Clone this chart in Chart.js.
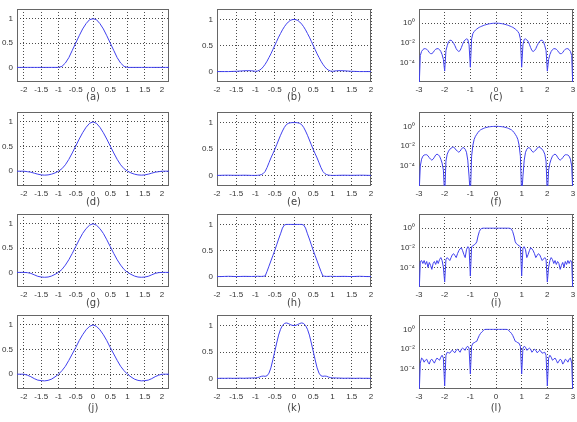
<!DOCTYPE html>
<html>
<head>
<meta charset="utf-8">
<script src="https://cdn.jsdelivr.net/npm/chart.js@4.4.0/dist/chart.umd.min.js"></script>
<style>
  html, body { margin: 0; padding: 0; background: #fff; }
  body { width: 577px; height: 422px; position: relative; overflow: hidden; }
  canvas { position: absolute; }
</style>
</head>
<body>
<script>
// sample positions per column
const xCol1 = [-2.2,-2.1,-2,-1.9,-1.8,-1.7,-1.6,-1.5,-1.4,-1.3,-1.2,-1.1,-1,-0.9,-0.8,-0.7,-0.6,-0.5,-0.4,-0.3,-0.2,-0.1,0,
  0.1,0.2,0.3,0.4,0.5,0.6,0.7,0.8,0.9,1,1.1,1.2,1.3,1.4,1.5,1.6,1.7,1.8,1.9,2,2.1,2.2];
const xCol2 = [-2,-1.9,-1.8,-1.7,-1.6,-1.5,-1.4,-1.3,-1.2,-1.1,-1,-0.95,-0.9,-0.85,-0.8,-0.75,-0.7,-0.65,-0.6,-0.55,-0.5,
  -0.45,-0.4,-0.35,-0.3,-0.25,-0.2,-0.15,-0.1,-0.05,0,0.05,0.1,0.15,0.2,0.25,0.3,0.35,0.4,0.45,0.5,0.55,0.6,0.65,0.7,
  0.75,0.8,0.85,0.9,0.95,1,1.1,1.2,1.3,1.4,1.5,1.6,1.7,1.8,1.9,2];
const xCol3 = [-3,-2.95,-2.9,-2.85,-2.8,-2.75,-2.7,-2.65,-2.6,-2.55,-2.5,-2.45,-2.4,-2.35,-2.3,-2.25,-2.2,-2.15,-2.1,-2.05,
  -2,-1.95,-1.9,-1.85,-1.8,-1.75,-1.7,-1.65,-1.6,-1.55,-1.5,-1.45,-1.4,-1.35,-1.3,-1.25,-1.2,-1.15,-1.1,-1.05,
  -1,-0.95,-0.9,-0.85,-0.8,-0.75,-0.7,-0.65,-0.6,-0.55,-0.5,-0.45,-0.4,-0.35,-0.3,-0.25,-0.2,-0.15,-0.1,-0.05,0,
  0.05,0.1,0.15,0.2,0.25,0.3,0.35,0.4,0.45,0.5,0.55,0.6,0.65,0.7,0.75,0.8,0.85,0.9,0.95,1,
  1.05,1.1,1.15,1.2,1.25,1.3,1.35,1.4,1.45,1.5,1.55,1.6,1.65,1.7,1.75,1.8,1.85,1.9,1.95,2,
  2.05,2.1,2.15,2.2,2.25,2.3,2.35,2.4,2.45,2.5,2.55,2.6,2.65,2.7,2.75,2.8,2.85,2.9,2.95,3];

// column 1 (linear)
const yA = [0,0,0,0,0,0,0,0,0,0,0,0,0,0.02,0.09,0.2,0.35,0.5,0.65,0.79,0.9,0.98,1,
  0.98,0.9,0.79,0.65,0.5,0.35,0.2,0.09,0.02,0,0,0,0,0,0,0,0,0,0,0,0,0];
const yD = [0,0,0,-0.01,-0.02,-0.04,-0.06,-0.075,-0.08,-0.075,-0.06,-0.035,0,0.05,0.13,0.24,0.37,0.51,0.65,0.78,0.89,0.97,1,
  0.97,0.89,0.78,0.65,0.51,0.37,0.24,0.13,0.05,0,-0.035,-0.06,-0.075,-0.08,-0.075,-0.06,-0.04,-0.02,-0.01,0,0,0];
const yG = [0,0,0,-0.005,-0.02,-0.05,-0.08,-0.095,-0.1,-0.095,-0.075,-0.04,0,0.06,0.15,0.26,0.39,0.53,0.67,0.8,0.9,0.97,1,
  0.97,0.9,0.8,0.67,0.53,0.39,0.26,0.15,0.06,0,-0.04,-0.075,-0.095,-0.1,-0.095,-0.08,-0.05,-0.02,-0.005,0,0,0];
const yJ = [0,0,0,-0.02,-0.05,-0.09,-0.12,-0.13,-0.135,-0.125,-0.1,-0.055,0,0.07,0.16,0.28,0.41,0.54,0.68,0.8,0.9,0.97,1,
  0.97,0.9,0.8,0.68,0.54,0.41,0.28,0.16,0.07,0,-0.055,-0.1,-0.125,-0.135,-0.13,-0.12,-0.09,-0.05,-0.02,0,0,0];

// column 2 (linear)
const yB = [0,0,0,0,0.003,0.005,0.01,0.015,0.018,0.015,0.005,
  0.01,0.025,0.05,0.09,0.14,0.2,0.27,0.34,0.42,0.5,0.58,0.66,0.73,0.8,0.86,0.91,0.95,0.98,0.995,1,
  0.995,0.98,0.95,0.91,0.86,0.8,0.73,0.66,0.58,0.5,0.42,0.34,0.27,0.2,0.14,0.09,0.05,0.025,0.01,
  0.005,0.015,0.018,0.015,0.01,0.005,0.003,0,0,0,0];
const yE = [0,0.002,0.004,0.004,0.003,0.002,0.003,0.004,0.003,0.001,0,
  0.002,0.006,0.015,0.035,0.075,0.15,0.24,0.33,0.41,0.49,0.58,0.67,0.76,0.84,0.91,0.96,0.985,0.995,1,1,
  1,0.995,0.985,0.96,0.91,0.84,0.76,0.67,0.58,0.49,0.41,0.33,0.24,0.15,0.075,0.035,0.015,0.006,0.002,
  0,0.001,0.003,0.004,0.003,0.002,0.003,0.004,0.004,0.002,0];
const yH = [0,0,0.003,0.005,0.003,0,0.002,0.004,0.003,0.002,0.004,
  0.005,0.004,0.003,0.006,0.01,0.1,0.2,0.3,0.4,0.5,0.61,0.72,0.82,0.93,0.99,1,1,1,1,1,
  1,1,1,1,0.99,0.93,0.82,0.72,0.61,0.5,0.4,0.3,0.2,0.1,0.01,0.006,0.003,0.004,0.005,
  0.004,0.002,0.003,0.004,0.002,0,0.003,0.005,0.003,0,0];
const yK = [0,0.003,0.002,0.004,0.002,0.003,0.005,0.003,0.006,0.008,0.01,
  0.015,0.025,0.04,0.045,0.04,0.05,0.1,0.2,0.35,0.51,0.67,0.82,0.93,1.0,1.04,1.05,1.04,1.02,1.005,1,
  1.005,1.02,1.04,1.05,1.04,1.0,0.93,0.82,0.67,0.51,0.35,0.2,0.1,0.05,0.04,0.045,0.04,0.025,0.015,
  0.01,0.008,0.006,0.003,0.005,0.003,0.002,0.004,0.002,0.003,0];

// column 3 (log magnitude)
const yC = [1e-7,5e-4,1.3e-3,2e-3,2.5e-3,2.5e-3,2.2e-3,1.6e-3,1e-3,7.9e-4,7.9e-4,1e-3,1.6e-3,2.2e-3,2.5e-3,2.5e-3,2e-3,1.3e-3,6.3e-4,2e-4,
  1.3e-5,1.6e-3,5e-3,1.3e-2,1.8e-2,1.8e-2,1.4e-2,8.9e-3,5e-3,2.5e-3,1.6e-3,1.3e-3,1.6e-3,3.2e-3,7.1e-3,1.4e-2,2e-2,2.5e-2,2.2e-2,6.3e-3,
  3.2e-5,2.5e-2,8.9e-2,0.14,0.2,0.25,0.32,0.38,0.44,0.5,0.56,0.63,0.69,0.76,0.81,0.87,0.91,0.95,0.98,1,
  1,
  1,0.98,0.95,0.91,0.87,0.81,0.76,0.69,0.63,0.56,0.5,0.44,0.38,0.32,0.25,0.2,0.14,8.9e-2,2.5e-2,3.2e-5,
  6.3e-3,2.2e-2,2.5e-2,2e-2,1.4e-2,7.1e-3,3.2e-3,1.6e-3,1.3e-3,1.6e-3,2.5e-3,5e-3,8.9e-3,1.4e-2,1.8e-2,1.8e-2,1.3e-2,5e-3,1.6e-3,1.3e-5,
  2e-4,6.3e-4,1.3e-3,2e-3,2.5e-3,2.5e-3,2.2e-3,1.6e-3,1e-3,7.9e-4,7.9e-4,1e-3,1.6e-3,2.2e-3,2.5e-3,2.5e-3,2e-3,1.3e-3,5e-4,1e-7];
const yF = [1e-7,1e-4,5e-4,1e-3,1.3e-3,1.4e-3,1.4e-3,1.1e-3,7.1e-4,5e-4,4e-4,5e-4,7.9e-4,1.3e-3,1.6e-3,1.4e-3,1e-3,5e-4,2e-4,4e-5,
  1e-7,3.2e-4,1.6e-3,3.2e-3,5e-3,6.3e-3,7.9e-3,7.9e-3,6.3e-3,4e-3,3.2e-3,2.5e-3,3.2e-3,5e-3,7.1e-3,7.1e-3,5e-3,2.5e-3,4e-4,1e-5,
  1e-7,1e-3,1.3e-2,5e-2,0.1,0.16,0.25,0.35,0.45,0.52,0.6,0.68,0.75,0.81,0.87,0.91,0.95,0.97,0.99,1,
  1,
  1,0.99,0.97,0.95,0.91,0.87,0.81,0.75,0.68,0.6,0.52,0.45,0.35,0.25,0.16,0.1,5e-2,1.3e-2,1e-3,1e-7,
  1e-5,4e-4,2.5e-3,5e-3,7.1e-3,7.1e-3,5e-3,3.2e-3,2.5e-3,3.2e-3,4e-3,6.3e-3,7.9e-3,7.9e-3,6.3e-3,5e-3,3.2e-3,1.6e-3,3.2e-4,1e-7,
  4e-5,2e-4,5e-4,1e-3,1.4e-3,1.6e-3,1.3e-3,7.9e-4,5e-4,4e-4,5e-4,7.1e-4,1.1e-3,1.4e-3,1.4e-3,1.3e-3,1e-3,5e-4,1e-4,1e-7];
const yI = [1e-7,4e-4,5e-4,2.5e-4,5e-4,2e-4,4e-4,1e-4,3.2e-4,1.6e-4,6.3e-5,2.5e-4,4e-4,2e-4,5e-4,2.5e-4,6.3e-4,1e-3,5e-4,1e-4,
  3.2e-6,6.3e-4,1e-3,7.1e-4,5e-4,1e-3,2e-3,2.5e-3,1.6e-3,1e-3,2.5e-3,5e-3,7.9e-3,1e-2,5e-3,2e-3,1e-3,6.3e-3,1.3e-2,1e-2,
  1.3e-5,1.3e-2,1.6e-2,2e-2,2.5e-2,4e-2,0.16,0.45,0.8,0.95,1,1,1,1,1,1,1,1,1,1,
  1,
  1,1,1,1,1,1,1,1,1,1,0.95,0.8,0.45,0.16,4e-2,2.5e-2,2e-2,1.6e-2,1.3e-2,1.3e-5,
  1e-2,1.3e-2,6.3e-3,1e-3,2e-3,5e-3,1e-2,7.9e-3,5e-3,2.5e-3,1e-3,1.6e-3,2.5e-3,2e-3,1e-3,5e-4,7.1e-4,1e-3,6.3e-4,3.2e-6,
  1e-4,5e-4,1e-3,6.3e-4,2.5e-4,5e-4,2e-4,4e-4,2.5e-4,6.3e-5,1.6e-4,3.2e-4,1e-4,4e-4,2e-4,5e-4,2.5e-4,5e-4,4e-4,1e-7];
const yL = [1e-7,4e-4,1.3e-3,1e-3,5e-4,7.9e-4,1e-3,5e-4,3.2e-4,7.9e-4,1e-3,6.3e-4,4e-4,7.9e-4,1.3e-3,1e-3,7.9e-4,1.6e-3,2.5e-3,1.3e-3,
  2e-6,2.5e-3,5e-3,4.5e-3,4e-3,6.3e-3,7.9e-3,5.6e-3,4.5e-3,7.9e-3,1e-2,7.1e-3,5e-3,1e-2,1.3e-2,1e-2,7.9e-3,1.6e-2,2e-2,1.3e-2,
  3.2e-5,2e-2,4e-2,4.5e-2,5.6e-2,6.3e-2,0.13,0.25,0.4,0.56,0.75,0.95,1,1,1,1,1,1,1,1,
  1,
  1,1,1,1,1,1,1,1,0.95,0.75,0.56,0.4,0.25,0.13,6.3e-2,5.6e-2,4.5e-2,4e-2,2e-2,3.2e-5,
  1.3e-2,2e-2,1.6e-2,7.9e-3,1e-2,1.3e-2,1e-2,5e-3,7.1e-3,1e-2,7.9e-3,4.5e-3,5.6e-3,7.9e-3,6.3e-3,4e-3,4.5e-3,5e-3,2.5e-3,2e-6,
  1.3e-3,2.5e-3,1.6e-3,7.9e-4,1e-3,1.3e-3,7.9e-4,4e-4,6.3e-4,1e-3,7.9e-4,3.2e-4,5e-4,1e-3,7.9e-4,5e-4,1e-3,1.3e-3,4e-4,1e-7];

// ticks
const tickX12 = [-2,-1.5,-1,-0.5,0,0.5,1,1.5,2];
const tickX3 = [-3,-2,-1,0,1,2,3];
const tickYLin = [0,0.5,1];
const tickYLog = [1e-4,1e-2,1];
const tickYLogText = ['10\u207B\u2074','10\u207B\u00B2','10\u2070'];

const series = [[yA,yB,yC],[yD,yE,yF],[yG,yH,yI],[yJ,yK,yL]];
const names = [['(a)','(b)','(c)'],['(d)','(e)','(f)'],['(g)','(h)','(i)'],['(j)','(k)','(l)']];

const cols = [
  { xs: xCol1, xMin: -2.2, xMax: 2.2, xTicks: tickX12, log: false, yMin: -0.3, yMax: 1.2, left: 17, w: 152, yW: 17 },
  { xs: xCol2, xMin: -2, xMax: 2, xTicks: tickX12, log: false, yMin: -0.2, yMax: 1.2, left: 217, w: 154, yW: 30 },
  { xs: xCol3, xMin: -3, xMax: 3, xTicks: tickX3, log: true, yMin: 1e-6, yMax: 28, left: 419, w: 154, yW: 30 }
];
const rows = [
  { top: 9, h: 73, gap: 15 },
  { top: 112, h: 74, gap: 16 },
  { top: 214, h: 73, gap: 16 },
  { top: 315, h: 74, gap: 19 }
];
const padTop = 10, padRight = 6;

Chart.defaults.font.family = '"Liberation Sans", Arial, sans-serif';
Chart.defaults.font.size = 8;
Chart.defaults.color = '#333';

// axes box drawn round the plot area
const frame = {
  id: 'frame',
  beforeDatasetsDraw(chart) {
    const { ctx, chartArea: a } = chart;
    ctx.save();
    ctx.strokeStyle = '#666';
    ctx.lineWidth = 1;
    ctx.strokeRect(Math.round(a.left) + 0.5, Math.round(a.top) + 0.5, Math.round(a.width) - 1, Math.round(a.height) - 1);
    ctx.restore();
  }
};

rows.forEach((r, ri) => {
  cols.forEach((c, ci) => {
    const xH = r.gap + 6;
    const cv = document.createElement('canvas');
    cv.width = c.yW + c.w + padRight;
    cv.height = padTop + r.h + xH;
    cv.style.left = (c.left - c.yW) + 'px';
    cv.style.top = (r.top - padTop) + 'px';
    document.body.appendChild(cv);

    const ys = series[ri][ci];
    const gridOpts = { color: 'rgba(0,0,0,0.7)', lineWidth: 1, drawTicks: false };
    const borderOpts = { display: false, dash: [1, 2] };

    new Chart(cv.getContext('2d'), {
      type: 'line',
      data: {
        datasets: [{
          data: c.xs.map((x, i) => ({ x: x, y: ys[i] })),
          borderColor: '#4040ee',
          borderWidth: 1,
          pointRadius: 0,
          fill: false
        }]
      },
      options: {
        responsive: false,
        animation: false,
        events: [],
        layout: { padding: { top: padTop, right: padRight, left: 0, bottom: 0 } },
        plugins: { legend: { display: false }, tooltip: { enabled: false } },
        scales: {
          x: {
            type: 'linear',
            bounds: 'data',
            min: c.xMin,
            max: c.xMax,
            grid: gridOpts,
            border: borderOpts,
            afterBuildTicks: s => { s.ticks = c.xTicks.map(v => ({ value: v })); },
            afterFit: s => { s.height = xH; },
            ticks: { autoSkip: false, maxRotation: 0, padding: 3, callback: v => String(v) },
            title: { display: true, text: names[ri][ci], font: { family: '"DejaVu Sans", sans-serif', size: 10 }, padding: 0, color: '#444' }
          },
          y: {
            type: c.log ? 'logarithmic' : 'linear',
            bounds: 'data',
            min: c.yMin,
            max: c.yMax,
            grid: gridOpts,
            border: borderOpts,
            afterBuildTicks: s => { s.ticks = (c.log ? tickYLog : tickYLin).map(v => ({ value: v })); },
            afterFit: s => { s.width = c.yW; },
            ticks: {
              autoSkip: false, padding: 4,
              callback: (v, i) => c.log ? tickYLogText[i] : String(v)
            }
          }
        }
      },
      plugins: [frame]
    });
  });
});
</script>
</body>
</html>
